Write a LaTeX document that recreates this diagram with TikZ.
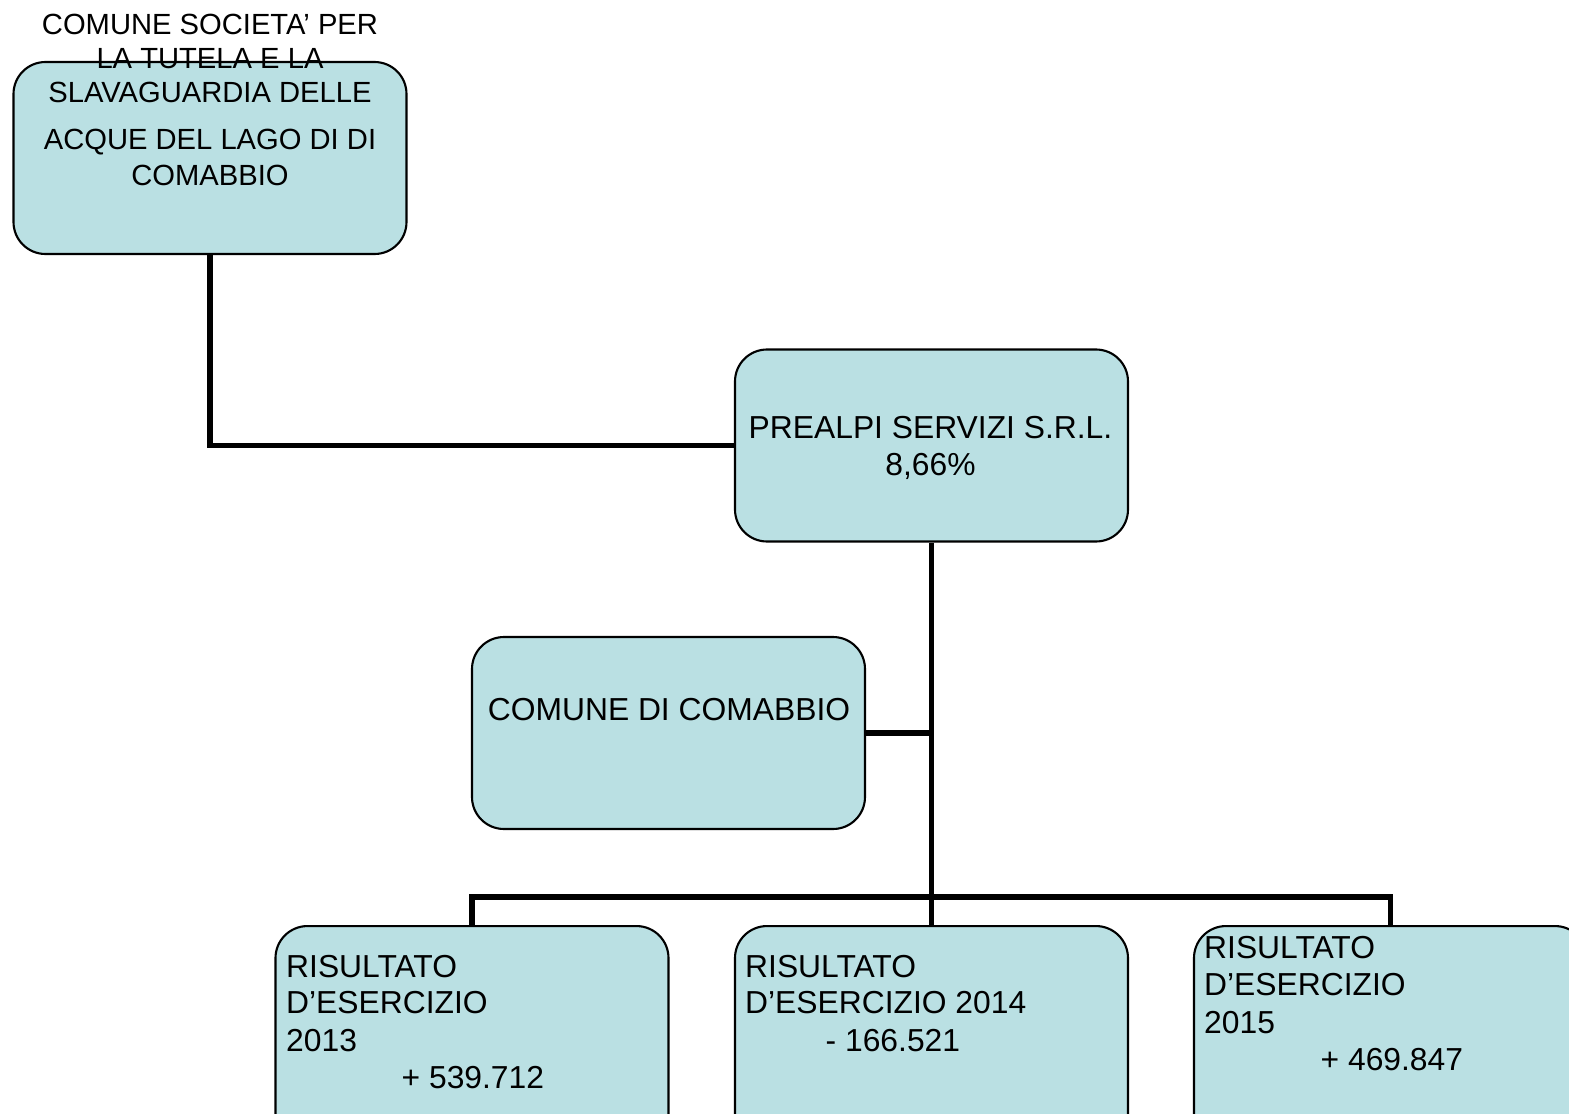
\documentclass[tikz,border=0pt]{standalone}
\usepackage{fontspec}
\setmainfont{Liberation Sans}
\definecolor{boxfill}{RGB}{186,224,227}
\begin{document}
\begin{tikzpicture}[
  box/.style={draw=black, line width=0.6pt, fill=boxfill, rounded corners=0.32cm,
    minimum width=3.93cm, minimum height=1.92cm, inner sep=0pt},
  lowbox/.style={box, minimum height=2.3cm},
  txt/.style={inner sep=0pt, font=\fontsize{9.05pt}{10.5pt}\selectfont},
  smalltxt/.style={txt, font=\fontsize{8.3pt}{9.7pt}\selectfont},
  link/.style={line width=1.5pt, line cap=butt, line join=miter}
]
\useasboundingbox (0,0) rectangle (15.69,-11.14);
\begin{scope}
\clip (0,0) rectangle (15.69,-11.14);
% boxes
\node[box] (soc) at (2.10,-1.58) {};
\node[box] (pre) at (9.315,-4.455) {};
\node[box] (com) at (6.685,-7.33) {};
\node[lowbox, anchor=north] (r1) at (4.72,-9.25) {};
\node[lowbox, anchor=north] (r2) at (9.315,-9.25) {};
\node[lowbox, anchor=north] (r3) at (13.905,-9.25) {};
\coordinate (bus) at (9.315,-8.97);
% connectors
\draw[link] (soc.south) |- (pre.west);
\draw[link] (pre.south) -- (bus);
\draw[link] (com.east) -- (com.east -| bus);
\draw[link] (r1.north) |- (bus) -| (r3.north);
\draw[link] (bus) -- (r2.north);
% texts of first box
\node[smalltxt, anchor=base] (s1) at (2.10,-0.345) {COMUNE SOCIETA’ PER};
\node[smalltxt, anchor=base] (s2) at (2.10,-0.685) {LA TUTELA E LA};
\node[smalltxt, anchor=base] (s3) at (2.10,-1.025) {SLAVAGUARDIA DELLE};
\node[smalltxt, anchor=base] (s4) at (2.10,-1.495) {ACQUE DEL LAGO DI DI};
\node[smalltxt, anchor=base] (s5) at (2.10,-1.855) {COMABBIO};
% prealpi
\node[txt, anchor=base] (p1) at (9.305,-4.38) {PREALPI SERVIZI S.R.L.};
\node[txt, anchor=base] (p2) at (9.305,-4.75) {8,66\%};
% comune
\node[txt, anchor=base] (c1) at (6.69,-7.20) {COMUNE DI COMABBIO};
% results
\node[txt, anchor=base west] (a1) at (2.855,-9.77) {RISULTATO};
\node[txt, anchor=base west] (a2) at (2.855,-10.13) {D’ESERCIZIO};
\node[txt, anchor=base west] (a3) at (2.855,-10.51) {2013};
\node[txt, anchor=base west] (a4) at (4.01,-10.88) {+ 539.712};
\node[txt, anchor=base west] (b1) at (7.445,-9.77) {RISULTATO};
\node[txt, anchor=base west] (b2) at (7.445,-10.13) {D’ESERCIZIO 2014};
\node[txt, anchor=base west] (b3) at (8.25,-10.51) {- 166.521};
\node[txt, anchor=base west] (d1) at (12.035,-9.58) {RISULTATO};
\node[txt, anchor=base west] (d2) at (12.035,-9.95) {D’ESERCIZIO};
\node[txt, anchor=base west] (d3) at (12.035,-10.33) {2015};
\node[txt, anchor=base west] (d4) at (13.20,-10.70) {+ 469.847};
\end{scope}
\end{tikzpicture}
\end{document}
